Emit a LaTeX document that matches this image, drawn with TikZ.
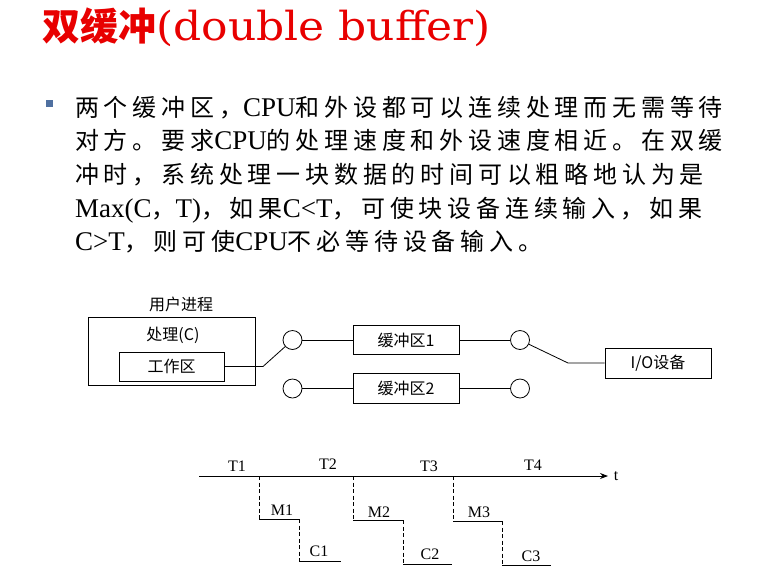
\documentclass[tikz,border=0pt]{standalone}
\usepackage{fontspec}
\usepackage{graphicx}
\usetikzlibrary{arrows.meta}
\setmainfont{Liberation Serif}
\newfontfamily\cjk{Noto Sans CJK SC}
\newfontfamily\cjkls[LetterSpace=20]{Noto Sans CJK SC}
\newfontfamily\titlelat{DejaVu Serif}
\newcommand\C[1]{{\cjkls\fontsize{24}{30}\selectfont #1}}
\definecolor{titlered}{RGB}{232,0,0}
\definecolor{bulletblue}{RGB}{79,112,160}
\begin{document}
\begin{tikzpicture}[x=1pt,y=-1pt,
  box/.style={draw,line width=0.9pt,inner sep=0,font=\cjk\fontsize{16}{18}\selectfont},
  lab/.style={inner sep=0,font=\cjk\fontsize{16}{18}\selectfont},
  circ/.style={draw,circle,line width=0.8pt,minimum size=19,inner sep=0},
  wire/.style={line width=0.8pt},
  body/.style={inner sep=0,anchor=base west,font=\fontsize{27}{30}\selectfont},
  tl/.style={inner sep=0,font=\fontsize{16}{18}\selectfont},
  stepdash/.style={line width=0.8pt,dash pattern=on 4pt off 2.5pt},
  stepline/.style={line width=0.8pt}]
\useasboundingbox (0,0) rectangle (775,579);
\fill[white] (0,0) rectangle (775,579);

% title
\node[inner sep=0,anchor=base west,text=titlered] (title) at (42,40)
  {{\cjk\bfseries\fontsize{38}{40}\selectfont 双缓冲}{\titlelat\fontsize{40}{42}\selectfont\scalebox{1.1}[1]{(double buffer)}}};

% bullet and body text
\node[fill=bulletblue,minimum size=7,inner sep=0] (bullet) at (49.5,103.5) {};
\node[body] (l1) at (75,116) {\C{两个缓冲区，}CPU\C{和外设都可以连续处理而无需等待}};
\node[body] (l2) at (75,149.5) {\C{对方。要求}CPU\C{的处理速度和外设速度相近。在双缓}};
\node[body] (l3) at (75,183) {\C{冲时，系统处理一块数据的时间可以粗略地认为是}};
\node[body] (l4) at (75,217) {Max(C\C{，}T)\C{，如果}C<T\C{，可使块设备连续输入，如果}};
\node[body] (l5) at (75,250.5) {C>T\C{，则可使}CPU\C{不必等待设备输入。}};

% block diagram
\node[lab] (user) at (181,304) {用户进程};
\node[box,minimum width=167,minimum height=68] (proc) at (171.5,351) {};
\node[lab] (procc) at (173,335) {处理(C)};
\node[box,minimum width=105,minimum height=29] (work) at (171.5,366.5) {工作区};
\coordinate (j1) at (263,366.5);
\node[circ] (c1) at (292.5,340) {};
\node[circ] (c2) at (292.5,388.5) {};
\node[box,minimum width=106,minimum height=29] (b1) at (406,340) {缓冲区1};
\node[box,minimum width=106,minimum height=30] (b2) at (406,388.5) {缓冲区2};
\node[circ] (c3) at (520,340) {};
\node[circ] (c4) at (520,388.5) {};
\coordinate (j2) at (568,363);
\node[box,minimum width=106,minimum height=30] (io) at (658,363) {I/O设备};

\draw[wire] (work.east) -- (j1) -- (c1);
\draw[wire] (c1) -- (b1);
\draw[wire] (c2) -- (b2);
\draw[wire] (b1) -- (c3);
\draw[wire] (b2) -- (c4);
\draw[wire] (c3) -- (j2) -- (io.west);

% timeline
\coordinate (t0) at (199,476);
\coordinate (tend) at (608,476);
\draw[line width=0.8pt,-{Stealth[length=8,width=6]}] (t0) -- (tend);
\node[tl] (tlab) at (616,476) {t};
\node[tl] (T1) at (237,466) {T1};
\node[tl] (T2) at (328,464) {T2};
\node[tl] (T3) at (429,466) {T3};
\node[tl] (T4) at (533,465) {T4};

\coordinate (a1) at (259,476); \coordinate (a2) at (259,519);
\coordinate (a3) at (299,519); \coordinate (a4) at (299,561);
\coordinate (a5) at (341,561);
\draw[stepdash] (a1) -- (a2); \draw[stepline] (a2) -- (a3);
\draw[stepdash] (a3) -- (a4); \draw[stepline] (a4) -- (a5);
\node[tl] (M1) at (282,510) {M1};
\node[tl] (C1) at (319,551) {C1};

\coordinate (b1a) at (353,476); \coordinate (b2a) at (353,520);
\coordinate (b3a) at (403,520); \coordinate (b4a) at (403,564);
\coordinate (b5a) at (452,564);
\draw[stepdash] (b1a) -- (b2a); \draw[stepline] (b2a) -- (b3a);
\draw[stepdash] (b3a) -- (b4a); \draw[stepline] (b4a) -- (b5a);
\node[tl] (M2) at (379,512) {M2};
\node[tl] (C2) at (430,554) {C2};

\coordinate (d1) at (453,476); \coordinate (d2) at (453,521);
\coordinate (d3) at (502,521); \coordinate (d4) at (502,565);
\coordinate (d5) at (551,565);
\draw[stepdash] (d1) -- (d2); \draw[stepline] (d2) -- (d3);
\draw[stepdash] (d3) -- (d4); \draw[stepline] (d4) -- (d5);
\node[tl] (M3) at (479,512) {M3};
\node[tl] (C3) at (531,556) {C3};
\end{tikzpicture}
\end{document}
